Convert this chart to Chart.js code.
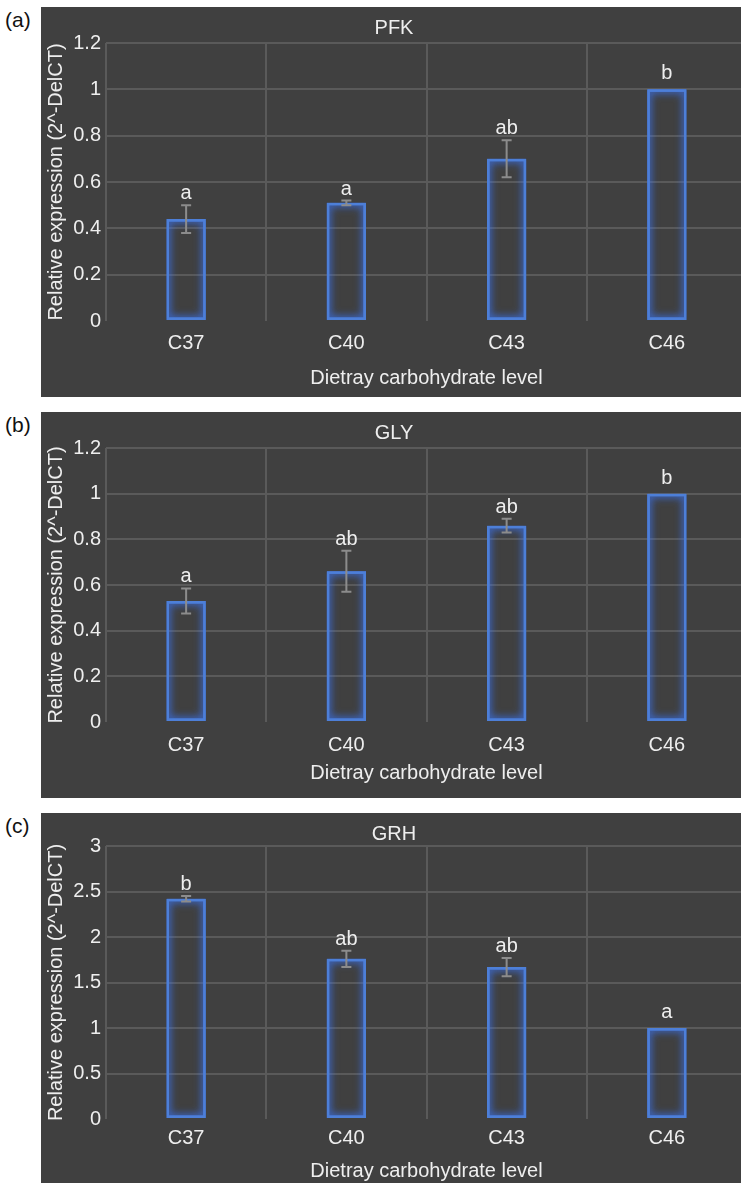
<!DOCTYPE html>
<html>
<head>
<meta charset="utf-8">
<script src="https://cdn.jsdelivr.net/npm/chart.js@4/dist/chart.umd.min.js"></script>
<style>
  html, body { margin: 0; padding: 0; background: #fff; width: 741px; height: 1183px; overflow: hidden; }
  .panel { position: absolute; left: 41px; width: 700px; overflow: hidden; background: #404040; }
  .panel canvas { position: absolute; left: 0; top: 0; }
  .tag { position: absolute; left: 5px; font: 21px "Liberation Sans", Arial, sans-serif; color: #111; }
</style>
</head>
<body>
<div class="tag" style="top:8px">(a)</div>
<div class="tag" style="top:413px">(b)</div>
<div class="tag" style="top:814px">(c)</div>
<div class="panel" style="top:7px;height:390px"><canvas id="pfk" width="718" height="390"></canvas></div>
<div class="panel" style="top:412px;height:386px"><canvas id="gly" width="718" height="386"></canvas></div>
<div class="panel" style="top:813px;height:370px"><canvas id="grh" width="718" height="370"></canvas></div>
<script>
// data
const categories = ["C37", "C40", "C43", "C46"];

const pfkValues = [0.44, 0.51, 0.70, 1.0];
const pfkErrors = [0.06, 0.01, 0.08, 0];
const pfkLetters = ["a", "a", "ab", "b"];

const glyValues = [0.53, 0.66, 0.86, 1.0];
const glyErrors = [0.055, 0.09, 0.03, 0];
const glyLetters = ["a", "ab", "ab", "b"];

const grhValues = [2.42, 1.76, 1.67, 1.0];
const grhErrors = [0.03, 0.09, 0.10, 0];
const grhLetters = ["b", "ab", "ab", "a"];

// y tick labels as printed on the figure
const smallTicks = ["0", "0.2", "0.4", "0.6", "0.8", "1", "1.2"];
const grhTicks = ["0", "0.5", "1", "1.5", "2", "2.5", "3"];

const FONT = "'Liberation Sans Narrow', 'Liberation Sans', Arial, sans-serif";
const TEXT = "#eeeeee";
const GRID = "#5a5a5a";

// glow around the bar outlines
const glowPlugin = {
    id: "glow",
    beforeDatasetDraw(chart) {
        const ctx = chart.ctx;
        ctx.save();
        ctx.shadowColor = "rgba(60,120,255,1)";
        ctx.shadowBlur = 10;
    },
    afterDatasetDraw(chart) {
        chart.ctx.restore();
        // second pass so the glow is as thick as in the picture
        const ctx = chart.ctx;
        ctx.save();
        ctx.shadowColor = "rgba(60,120,255,0.9)";
        ctx.shadowBlur = 6;
        chart.getDatasetMeta(0).data.forEach((bar) => bar.draw(ctx));
        ctx.restore();
    }
};

// error bars + significance letters
const errorPlugin = {
    id: "errbars",
    afterDatasetsDraw(chart, args, opts) {
        const ctx = chart.ctx;
        const y = chart.scales.y;
        const meta = chart.getDatasetMeta(0);
        const vals = chart.data.datasets[0].data;
        ctx.save();
        meta.data.forEach((bar, i) => {
            const err = opts.errors[i];
            const top = y.getPixelForValue(vals[i] + err);
            if (err > 0) {
                const bot = y.getPixelForValue(vals[i] - err);
                ctx.strokeStyle = "#8c8c8c";
                ctx.lineWidth = 2;
                ctx.beginPath();
                ctx.moveTo(bar.x, top); ctx.lineTo(bar.x, bot);
                ctx.moveTo(bar.x - 5, top); ctx.lineTo(bar.x + 5, top);
                ctx.moveTo(bar.x - 5, bot); ctx.lineTo(bar.x + 5, bot);
                ctx.stroke();
            }
            ctx.fillStyle = TEXT;
            ctx.font = "20px " + FONT;
            ctx.textAlign = "center";
            ctx.textBaseline = "alphabetic";
            ctx.fillText(opts.letters[i], bar.x, top - (err > 0 ? 6 : 10));
        });
        ctx.restore();
    }
};

function makePanel(id, title, values, errors, letters, yTicks, yStep, tickPad, xTitlePad) {
    new Chart(document.getElementById(id), {
        type: "bar",
        data: {
            labels: categories,
            datasets: [{
                data: values,
                backgroundColor: "rgba(0,0,0,0)",
                borderColor: "#4d7fd8",
                borderWidth: 2.5,
                borderSkipped: false,
                categoryPercentage: 1,
                barPercentage: 0.245
            }]
        },
        options: {
            responsive: false,
            animation: false,
            devicePixelRatio: 1,
            layout: { padding: { left: 0, right: 12, top: 0, bottom: 0 } },
            plugins: {
                legend: { display: false },
                tooltip: { enabled: false },
                title: {
                    display: true,
                    text: title,
                    color: TEXT,
                    font: { family: FONT, size: 20, weight: "normal" },
                    padding: { top: 9, bottom: id === "grh" ? 0 : 3 }
                },
                errbars: { errors: errors, letters: letters }
            },
            scales: {
                x: {
                    grid: { color: GRID, lineWidth: 2, drawTicks: false, offset: true },
                    border: { display: false },
                    ticks: { color: TEXT, font: { family: FONT, size: 20 }, padding: tickPad },
                    title: {
                        display: true,
                        text: "Dietray carbohydrate level",
                        color: TEXT,
                        font: { family: FONT, size: 20 },
                        padding: { top: 0, bottom: xTitlePad }
                    },
                    afterFit(scale) { scale.height = id === "grh" ? 64 : 76; }
                },
                y: {
                    min: 0,
                    max: yStep * (yTicks.length - 1),
                    grid: {
                        color: (c) => c.tick && c.tick.value === 0 ? "rgba(0,0,0,0)" : GRID,
                        lineWidth: 2,
                        drawTicks: false
                    },
                    border: { display: false },
                    ticks: {
                        stepSize: yStep,
                        color: TEXT,
                        font: { family: FONT, size: 20 },
                        padding: 5,
                        callback: (v, i) => yTicks[i]
                    },
                    title: {
                        display: true,
                        text: "Relative expression (2^-DelCT)",
                        color: TEXT,
                        font: { family: FONT, size: 20 },
                        padding: { top: 3, bottom: 0 }
                    },
                    afterFit(scale) { scale.width = 65; }
                }
            }
        },
        plugins: [glowPlugin, errorPlugin]
    });
}

makePanel("pfk", "PFK", pfkValues, pfkErrors, pfkLetters, smallTicks, 0.2, 10, 7);
makePanel("gly", "GLY", glyValues, glyErrors, glyLetters, smallTicks, 0.2, 11, 13);
makePanel("grh", "GRH", grhValues, grhErrors, grhLetters, grhTicks, 0.5, 7, 0);
</script>
</body>
</html>
